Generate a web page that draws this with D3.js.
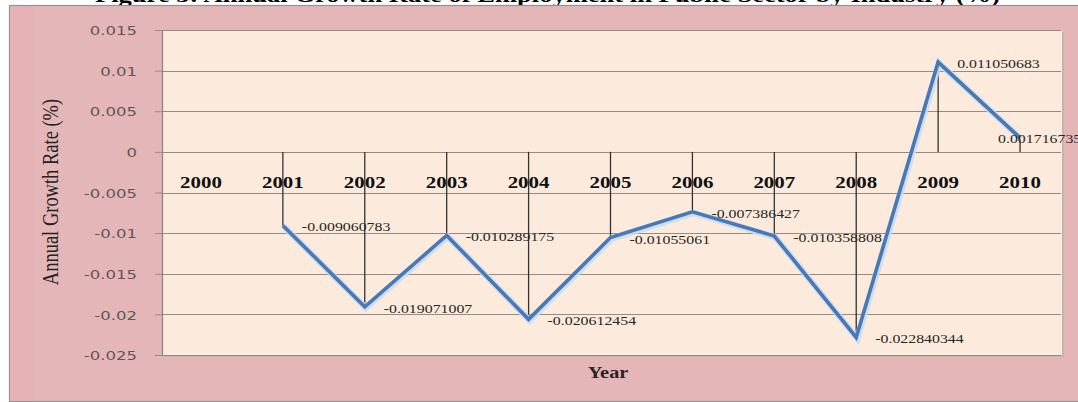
<!DOCTYPE html>
<html>
<head>
<meta charset="utf-8">
<script src="https://cdn.jsdelivr.net/npm/d3@7/dist/d3.min.js"></script>
<style>
  html, body { margin: 0; padding: 0; background: #ffffff; }
  svg { display: block; }
</style>
</head>
<body>
<svg id="chart" width="1078" height="402"></svg>
<script>
// Annual growth rate of public-sector employment, 2000–2010
const years = ["2000", "2001", "2002", "2003", "2004", "2005", "2006", "2007", "2008", "2009", "2010"];
const growth = [null, -0.009060783, -0.019071007, -0.010289175, -0.020612454, -0.01055061,
                -0.007386427, -0.010358808, -0.022840344, 0.011050683, 0.001716735];
const yTicks = [0.015, 0.01, 0.005, 0, -0.005, -0.01, -0.015, -0.02, -0.025];
const titleText = "Figure 3: Annual Growth Rate of Employment in Public Sector by Industry (%)";
const yTitle = "Annual Growth Rate (%)";
const xTitle = "Year";

const serif = "'Liberation Serif', 'Times New Roman', serif";
const sans = "'DejaVu Sans', Verdana, sans-serif";
const stretch = 1.27; // text is drawn horizontally widened

const svg = d3.select("#chart");
const plot = { left: 162, top: 30, right: 1062, bottom: 355 };

// Title line above the chart frame
svg.append("text")
  .attr("x", 95).attr("y", 2)
  .attr("textLength", 905).attr("lengthAdjust", "spacingAndGlyphs")
  .style("font-family", serif).style("font-weight", "bold").style("font-size", "21px")
  .attr("fill", "#000")
  .text(titleText);

// Chart frame
svg.append("rect")
  .attr("x", 9.5).attr("y", 5.5).attr("width", 1080).attr("height", 396)
  .attr("fill", "#e4b6b8").attr("stroke", "#9a9090").attr("stroke-width", 1.2);
svg.append("rect")
  .attr("x", 11).attr("y", 7).attr("width", 22).attr("height", 394)
  .attr("fill", "#e8b0b5").attr("opacity", 0.7);

// Plot area with a soft edge shadow
svg.append("rect")
  .attr("x", plot.left + 2).attr("y", plot.top + 2)
  .attr("width", plot.right - plot.left).attr("height", plot.bottom - plot.top)
  .attr("fill", "#cbb3a8");
svg.append("rect")
  .attr("x", plot.left).attr("y", plot.top)
  .attr("width", plot.right - plot.left).attr("height", plot.bottom - plot.top)
  .attr("fill", "#fcebdc");

const x = d3.scaleBand().domain(years).range([160, 1061]).padding(0);
const cx = d => x(d) + x.bandwidth() / 2;
const y = d3.scaleLinear().domain([-0.025, 0.015]).range([plot.bottom, plot.top]);

// Horizontal gridlines
svg.append("g").selectAll("line").data(yTicks).join("line")
  .attr("x1", plot.left).attr("x2", plot.right - 1)
  .attr("y1", d => Math.round(y(d)) + 0.5).attr("y2", d => Math.round(y(d)) + 0.5)
  .attr("stroke", "#978a80").attr("stroke-width", 1.1);

// Left value axis
const yAxis = svg.append("g")
  .attr("transform", `translate(${plot.left},0)`)
  .call(d3.axisLeft(y).tickValues(yTicks).tickFormat(d => String(d)).tickSize(7).tickSizeOuter(0));
yAxis.select(".domain").attr("stroke", "#8a8080").attr("stroke-width", 1.2);
yAxis.selectAll(".tick line").attr("stroke", "#978a80");
yAxis.selectAll(".tick text")
  .attr("x", 0).attr("dy", "0.36em")
  .attr("transform", `translate(-25,0) scale(${stretch},1)`)
  .attr("text-anchor", "end")
  .style("font-family", sans).style("font-size", "13px")
  .attr("fill", "#5e5656");

// Category axis labels sitting under the zero line
const xAxis = svg.append("g")
  .attr("transform", `translate(0,${y(0)})`)
  .call(d3.axisBottom(x).tickSize(0));
xAxis.select(".domain").remove();
xAxis.selectAll(".tick text")
  .attr("y", 0).attr("dy", 0)
  .attr("transform", `translate(0,36) scale(${stretch},1)`)
  .attr("text-anchor", "middle")
  .style("font-family", serif).style("font-weight", "bold").style("font-size", "16.5px")
  .attr("fill", "#111");

const pts = years.map((yr, i) => ({ yr, v: growth[i] })).filter(d => d.v !== null);

// Drop lines from the zero line to each point
svg.append("g").selectAll("line").data(pts).join("line")
  .attr("x1", d => cx(d.yr)).attr("x2", d => cx(d.yr))
  .attr("y1", y(0)).attr("y2", d => y(d.v))
  .attr("stroke", "#333").attr("stroke-width", 1.3);

// Series line with a pale glow
const line = d3.line().x(d => cx(d.yr)).y(d => y(d.v));
svg.append("path").datum(pts).attr("d", line)
  .attr("fill", "none").attr("stroke", "#c4dcf4").attr("stroke-width", 6.5)
  .attr("stroke-linejoin", "miter").attr("opacity", 0.85)
  .attr("transform", "translate(1,1)");
svg.append("path").datum(pts).attr("d", line)
  .attr("fill", "none").attr("stroke", "#4a78b4").attr("stroke-width", 3.6)
  .attr("stroke-linejoin", "miter");

// Data labels
svg.append("g").selectAll("text").data(pts).join("text")
  .attr("transform", d => {
    const last = d.yr === "2010";
    const lx = last ? cx(d.yr) - 22 : cx(d.yr) + 19;
    const ly = y(d.v) + (last ? 5 : 6);
    return `translate(${lx},${ly}) scale(${stretch},1)`;
  })
  .style("font-family", serif).style("font-size", "12.5px")
  .attr("fill", "#2a2626")
  .text(d => String(d.v));

// Axis titles
svg.append("text")
  .attr("transform", `translate(58,192) scale(${stretch},1) rotate(-90)`)
  .attr("text-anchor", "middle")
  .style("font-family", serif).style("font-size", "18.5px")
  .attr("fill", "#222")
  .text(yTitle);

svg.append("text")
  .attr("transform", `translate(608,378) scale(1.2,1)`)
  .attr("text-anchor", "middle")
  .style("font-family", serif).style("font-weight", "bold").style("font-size", "17px")
  .attr("fill", "#2a2222")
  .text(xTitle);
</script>
</body>
</html>
